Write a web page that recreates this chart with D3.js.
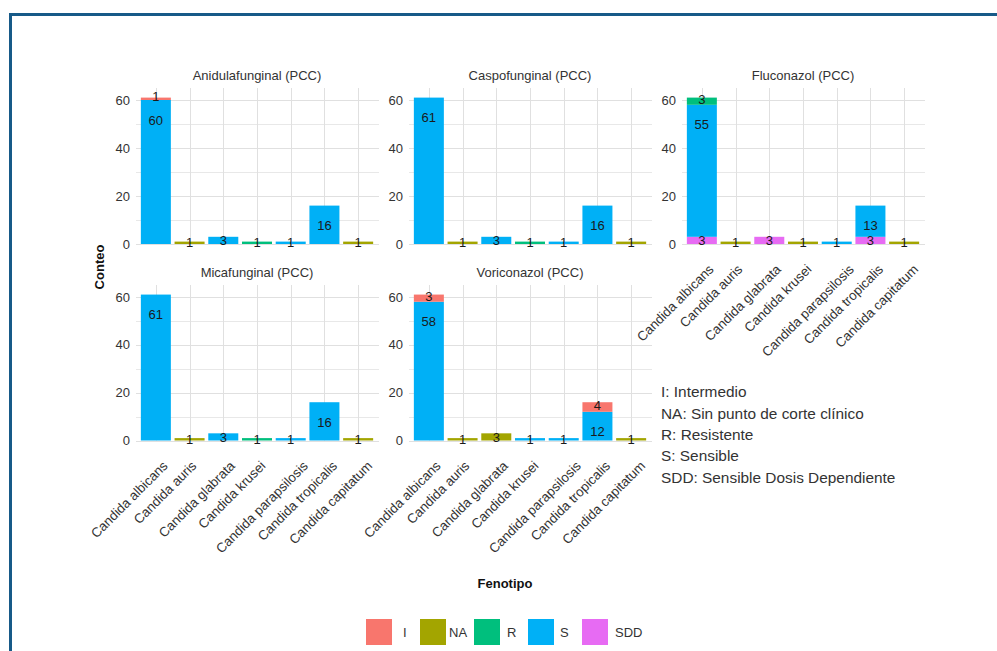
<!DOCTYPE html>
<html>
<head>
<meta charset="utf-8">
<script src="https://cdn.jsdelivr.net/npm/d3@7"></script>
<style>
  html, body { margin: 0; padding: 0; background: #fff; }
  svg { display: block; font-family: "Liberation Sans", Arial, sans-serif; }
</style>
</head>
<body>
<svg id="chart" width="997" height="651"></svg>
<script>
// ---------------- DATA ----------------
const categories = ["Candida albicans", "Candida auris", "Candida glabrata", "Candida krusei",
                    "Candida parapsilosis", "Candida tropicalis", "Candida capitatum"];
const phenotypes = ["I", "NA", "R", "S", "SDD"];
const stackOrder = ["SDD", "S", "R", "NA", "I"]; // bottom -> top
const panelTitles = ["Anidulafunginal (PCC)", "Caspofunginal (PCC)", "Fluconazol (PCC)",
                     "Micafunginal (PCC)", "Voriconazol (PCC)"];
const yTicks = [0, 20, 40, 60];

// counts per phenotype, one value per category (same order as categories)
const anidulafunginal = {
  I:   [1, 0, 0, 0, 0, 0, 0],
  NA:  [0, 1, 0, 0, 0, 0, 1],
  R:   [0, 0, 0, 1, 0, 0, 0],
  S:   [60, 0, 3, 0, 1, 16, 0],
  SDD: [0, 0, 0, 0, 0, 0, 0]
};
const caspofunginal = {
  I:   [0, 0, 0, 0, 0, 0, 0],
  NA:  [0, 1, 0, 0, 0, 0, 1],
  R:   [0, 0, 0, 1, 0, 0, 0],
  S:   [61, 0, 3, 0, 1, 16, 0],
  SDD: [0, 0, 0, 0, 0, 0, 0]
};
const fluconazol = {
  I:   [0, 0, 0, 0, 0, 0, 0],
  NA:  [0, 1, 0, 1, 0, 0, 1],
  R:   [3, 0, 0, 0, 0, 0, 0],
  S:   [55, 0, 0, 0, 1, 13, 0],
  SDD: [3, 0, 3, 0, 0, 3, 0]
};
const micafunginal = {
  I:   [0, 0, 0, 0, 0, 0, 0],
  NA:  [0, 1, 0, 0, 0, 0, 1],
  R:   [0, 0, 0, 1, 0, 0, 0],
  S:   [61, 0, 3, 0, 1, 16, 0],
  SDD: [0, 0, 0, 0, 0, 0, 0]
};
const voriconazol = {
  I:   [3, 0, 0, 0, 0, 4, 0],
  NA:  [0, 1, 3, 0, 0, 0, 1],
  R:   [0, 0, 0, 0, 0, 0, 0],
  S:   [58, 0, 0, 1, 1, 12, 0],
  SDD: [0, 0, 0, 0, 0, 0, 0]
};
const panelData = [anidulafunginal, caspofunginal, fluconazol, micafunginal, voriconazol];

const legendNotes = ["I: Intermedio", "NA: Sin punto de corte clínico", "R: Resistente",
                     "S: Sensible", "SDD: Sensible Dosis Dependiente"];

// ---------------- STYLE / LAYOUT ----------------
const colors = { I: "#F8766D", NA: "#A3A500", R: "#00BF7D", S: "#00B0F6", SDD: "#E76BF3" };
const colX = [139, 412, 685];
const bandSpan = 236;
const rowZero = [244, 440.5];
const rowTop = [88, 285];
const panelPos = [[0, 0], [1, 0], [2, 0], [0, 1], [1, 1]];
const showX = [false, false, true, true, true];

const svg = d3.select("#chart");

// outer frame
svg.append("rect")
  .attr("x", 10.5).attr("y", 14.5).attr("width", 1100).attr("height", 800)
  .attr("fill", "none").attr("stroke", "#175a88").attr("stroke-width", 3);

panelData.forEach((pd, pi) => {
  const [ci, ri] = panelPos[pi];
  const x0 = colX[ci], x1 = x0 + bandSpan;
  const zero = rowZero[ri], top = rowTop[ri];

  const x = d3.scaleBand().domain(categories).range([x0, x1])
    .paddingInner(0.11).paddingOuter(0.055);
  const y = d3.scaleLinear().domain([0, 65]).range([zero, top]);

  const g = svg.append("g");

  // grid
  const gridY = d3.range(0, 61, 10);
  g.selectAll(".hg").data(gridY).join("line")
    .attr("x1", x0 - 3).attr("x2", x1 + 4)
    .attr("y1", d => Math.round(y(d)) + 0.5).attr("y2", d => Math.round(y(d)) + 0.5)
    .attr("stroke", d => d % 20 === 0 ? "#e0e0e0" : "#e8e8e8").attr("stroke-width", 1);
  g.selectAll(".vg").data(categories).join("line")
    .attr("x1", d => Math.round(x(d) + x.bandwidth() / 2) + 0.5)
    .attr("x2", d => Math.round(x(d) + x.bandwidth() / 2) + 0.5)
    .attr("y1", top).attr("y2", zero)
    .attr("stroke", "#e0e0e0").attr("stroke-width", 1);

  // stacked bars
  const rows = categories.map((c, i) => {
    const o = { cat: c };
    phenotypes.forEach(p => o[p] = pd[p][i]);
    return o;
  });
  const series = d3.stack().keys(stackOrder)(rows);
  series.forEach(s => {
    const key = s.key;
    g.selectAll(null).data(s.filter(d => d[1] - d[0] > 0)).join("rect")
      .attr("x", d => x(d.data.cat))
      .attr("width", x.bandwidth())
      .attr("y", d => y(d[1]))
      .attr("height", d => y(d[0]) - y(d[1]))
      .attr("fill", colors[key]);
  });
  // value labels
  series.forEach(s => {
    g.selectAll(null).data(s.filter(d => d[1] - d[0] > 0)).join("text")
      .attr("x", d => x(d.data.cat) + x.bandwidth() / 2)
      .attr("y", d => {
        const h = y(d[0]) - y(d[1]);
        if (h > 24) return y(d[1]) + 20;
        const mid = (y(d[0]) + y(d[1])) / 2;
        return d[0] > 0 ? mid - 2 : mid;
      })
      .attr("dy", "0.36em")
      .attr("text-anchor", "middle")
      .attr("font-size", 13).attr("fill", "#1a1a1a")
      .text(d => d[1] - d[0]);
  });

  // y axis labels
  const ya = g.append("g").attr("transform", `translate(${x0},0)`)
    .call(d3.axisLeft(y).tickValues(yTicks).tickSize(0).tickPadding(9));
  ya.select(".domain").remove();
  ya.selectAll("text").attr("font-size", 13).attr("fill", "#333")
    .attr("font-family", "Liberation Sans, Arial, sans-serif");

  // title
  g.append("text")
    .attr("x", (x0 + x1) / 2).attr("y", top - 13).attr("dy", "0.35em")
    .attr("text-anchor", "middle").attr("font-size", 13).attr("fill", "#333")
    .text(panelTitles[pi]);

  // x tick labels
  if (showX[pi]) {
    g.selectAll(".xl").data(categories).join("text")
      .attr("text-anchor", "end").attr("dy", "0.71em")
      .attr("font-size", 13.3).attr("fill", "#333")
      .text(d => d)
      .each(function (d) {
        const w = this.getComputedTextLength();
        const off = 0.25 * (w - 78);
        const cx = x(d) + x.bandwidth() / 2 + off;
        d3.select(this).attr("transform", `translate(${cx},${zero + 19.5}) rotate(-45)`);
      });
  }
});

// axis titles
svg.append("text")
  .attr("transform", "translate(104,267) rotate(-90)")
  .attr("text-anchor", "middle").attr("font-size", 13).attr("font-weight", "bold")
  .attr("fill", "#111").text("Conteo");
svg.append("text")
  .attr("x", 505).attr("y", 583).attr("dy", "0.35em")
  .attr("text-anchor", "middle").attr("font-size", 13).attr("font-weight", "bold")
  .attr("fill", "#111").text("Fenotipo");

// legend
const lg = svg.append("g");
const legendLabelOffset = [37, 29, 33, 32, 33];
phenotypes.forEach((p, i) => {
  const lx = 366 + i * 54;
  lg.append("rect").attr("x", lx).attr("y", 619).attr("width", 26).attr("height", 26)
    .attr("fill", colors[p]);
  lg.append("text").attr("x", lx + legendLabelOffset[i]).attr("y", 632).attr("dy", "0.35em")
    .attr("font-size", 13).attr("fill", "#333").text(p);
});

// notes
svg.append("g").selectAll("text").data(legendNotes).join("text")
  .attr("x", 661).attr("y", (d, i) => 392 + i * 21.3).attr("dy", "0.35em")
  .attr("font-size", 15.4).attr("fill", "#333").text(d => d);
</script>
</body>
</html>
